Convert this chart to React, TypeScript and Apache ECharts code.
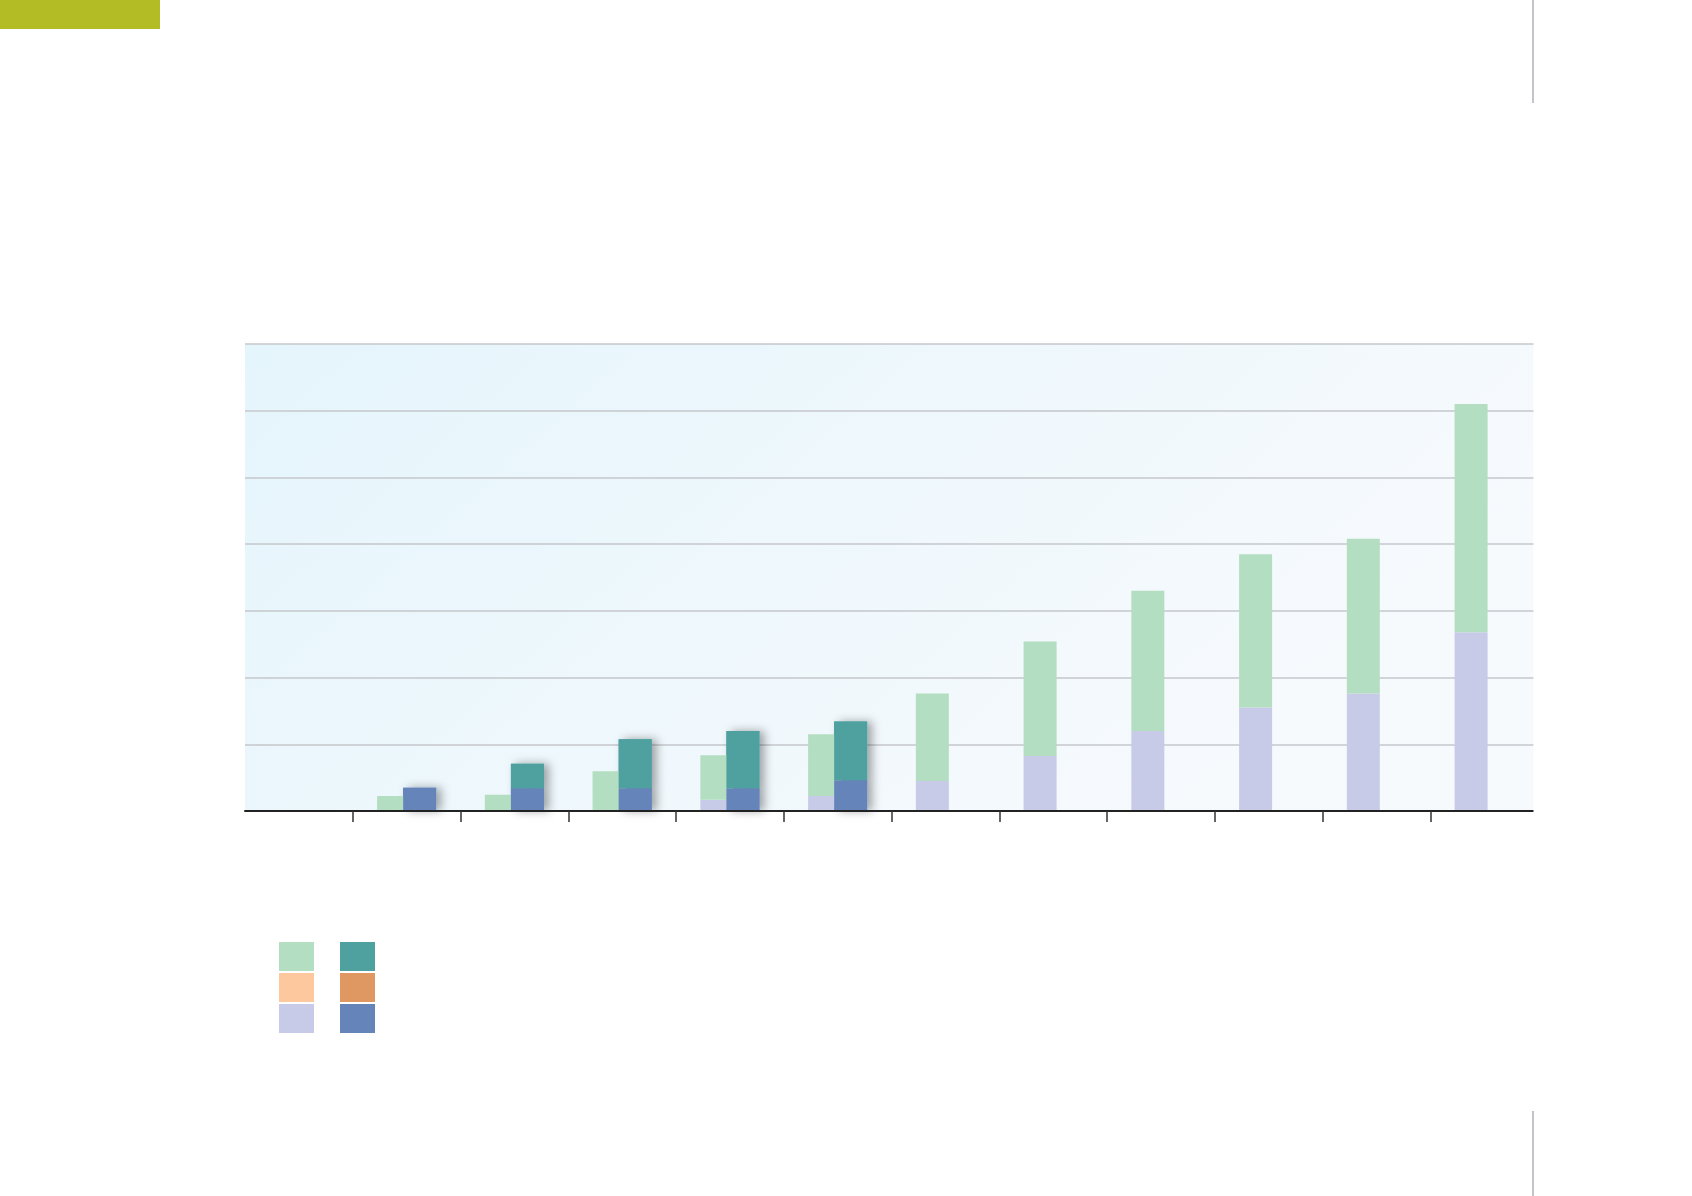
import React, { useEffect, useRef } from 'react';
import * as echarts from 'echarts';

// ---------- data ----------
const categories = ['Jan', 'Feb', 'Mar', 'Apr', 'May', 'Jun', 'Jul', 'Aug', 'Sep', 'Oct', 'Nov', 'Dec'];

// light stack (left bar of each pair)
const lightLavender = [null, null, null, null, 1.7, 2.25, 4.5, 8.25, 12.0, 15.5, 17.6, 26.8];
const lightOrange = [null, null, null, null, null, null, null, null, null, null, null, null];
const lightGreen = [null, 2.25, 2.45, 5.95, 6.65, 9.25, 13.1, 17.15, 21.0, 23.0, 23.2, 34.2];

// dark stack (right bar of each pair)
const darkBlue = [null, 3.5, 3.4, 3.4, 3.4, 4.6, null, null, null, null, null, null];
const darkOrange = [null, null, null, null, null, null, null, null, null, null, null, null];
const darkTeal = [null, null, 3.7, 7.35, 8.6, 8.8, null, null, null, null, null, null];

const yMin = 0;
const yMax = 70;
const yInterval = 10;

const seriesNames = {
  lightGreen: 'Light green',
  darkTeal: 'Dark teal',
  lightOrange: 'Light orange',
  darkOrange: 'Dark orange',
  lightLavender: 'Light lavender',
  darkBlue: 'Dark blue',
};

const colors = {
  lightGreen: '#b4dec1',
  darkTeal: '#4fa19f',
  lightOrange: '#fdc89d',
  darkOrange: '#df9862',
  lightLavender: '#c7cbe8',
  darkBlue: '#6584ba',
};

export default function App() {
  const ref = useRef<HTMLDivElement>(null);

  useEffect(() => {
    if (!ref.current) return;
    const chart = echarts.init(ref.current, undefined, { renderer: 'svg' });

    const barW = 33;
    const gap = '-21%';
    const shadowItem = (c: string) => ({
      color: c,
      shadowBlur: 10,
      shadowColor: 'rgba(0,0,0,0.35)',
      shadowOffsetX: 5,
      shadowOffsetY: 0,
    });

    const legendCommon = {
      orient: 'horizontal',
      left: 279,
      padding: 0,
      itemWidth: 35,
      itemHeight: 29,
      itemGap: 26,
      icon: 'rect',
      selectedMode: false,
      formatter: () => '',
      textStyle: { fontSize: 10 },
    };

    const bar = (name: string, stack: string, data: (number | null)[], itemStyle: any, extra: any = {}) => ({
      name,
      type: 'bar',
      stack,
      data,
      barWidth: barW,
      barGap: gap,
      itemStyle,
      ...extra,
    });

    chart.setOption({
      animation: false,
      backgroundColor: '#ffffff',
      grid: {
        left: 245,
        top: 344,
        width: 1293,
        height: 467,
        show: true,
        borderWidth: 0,
        backgroundColor: new echarts.graphic.LinearGradient(0, 0, 1, 0.4, [
          { offset: 0, color: '#e5f5fc' },
          { offset: 1, color: '#f7fafd' },
        ]),
        containLabel: false,
      },
      legend: [
        { ...legendCommon, top: 942, data: [seriesNames.lightGreen, seriesNames.darkTeal] },
        { ...legendCommon, top: 973, data: [seriesNames.lightOrange, seriesNames.darkOrange] },
        { ...legendCommon, top: 1004, data: [seriesNames.lightLavender, seriesNames.darkBlue] },
      ],
      xAxis: [
        {
          type: 'category',
          data: categories,
          boundaryGap: true,
          axisLine: { show: true, lineStyle: { color: '#222222', width: 2 } },
          axisTick: {
            show: true,
            length: 11,
            interval: (i: number) => i !== 0,
            lineStyle: { color: '#333333', width: 1.5 },
          },
          axisLabel: { show: false },
          splitLine: { show: false },
          z: 5,
        },
        {
          // hidden twin axis used only to lay the drop-shadows beneath the dark bars
          type: 'category',
          data: categories,
          boundaryGap: true,
          show: false,
          position: 'bottom',
        },
      ],
      yAxis: {
        type: 'value',
        min: yMin,
        max: yMax,
        interval: yInterval,
        axisLine: { show: false },
        axisTick: { show: false },
        axisLabel: { show: false },
        splitLine: { show: true, lineStyle: { color: '#c4c7cb', width: 1.6 } },
      },
      series: [
        // shadow layer (same bar layout, drawn below)
        bar('shadow-light', 'sl', lightOrange, { color: 'transparent' }, { xAxisIndex: 1, z: 1, silent: true }),
        bar('shadow-blue', 'sd', darkBlue, shadowItem(colors.darkBlue), { xAxisIndex: 1, z: 1, silent: true }),
        bar('shadow-teal', 'sd', darkTeal, shadowItem(colors.darkTeal), { xAxisIndex: 1, z: 1, silent: true }),
        // visible bars
        bar(seriesNames.lightLavender, 'light', lightLavender, { color: colors.lightLavender }, { z: 2 }),
        bar(seriesNames.lightOrange, 'light', lightOrange, { color: colors.lightOrange }, { z: 2 }),
        bar(seriesNames.lightGreen, 'light', lightGreen, { color: colors.lightGreen }, { z: 2 }),
        bar(seriesNames.darkBlue, 'dark', darkBlue, { color: colors.darkBlue }, { z: 3 }),
        bar(seriesNames.darkOrange, 'dark', darkOrange, { color: colors.darkOrange }, { z: 3 }),
        bar(seriesNames.darkTeal, 'dark', darkTeal, { color: colors.darkTeal }, { z: 3 }),
      ],
      graphic: [
        {
          type: 'rect',
          left: 0,
          top: 0,
          shape: { width: 160, height: 29 },
          style: { fill: '#b3bc24' },
          z: 100,
        },
        {
          type: 'rect',
          left: 1533.5,
          top: 330,
          shape: { width: 40, height: 500 },
          style: { fill: '#ffffff' },
          z: 100,
        },
        {
          type: 'rect',
          left: 1532,
          top: 0,
          shape: { width: 2, height: 103 },
          style: { fill: '#c1c4c8' },
          z: 101,
        },
        {
          type: 'rect',
          left: 1532,
          top: 1111,
          shape: { width: 2, height: 85 },
          style: { fill: '#c1c4c8' },
          z: 101,
        },
      ],
    });

    return () => {
      chart.dispose();
    };
  }, []);

  return (
    <div
      ref={ref}
      style={{ position: 'fixed', left: 0, top: 0, width: 1692, height: 1196, background: '#ffffff' }}
    />
  );
}
